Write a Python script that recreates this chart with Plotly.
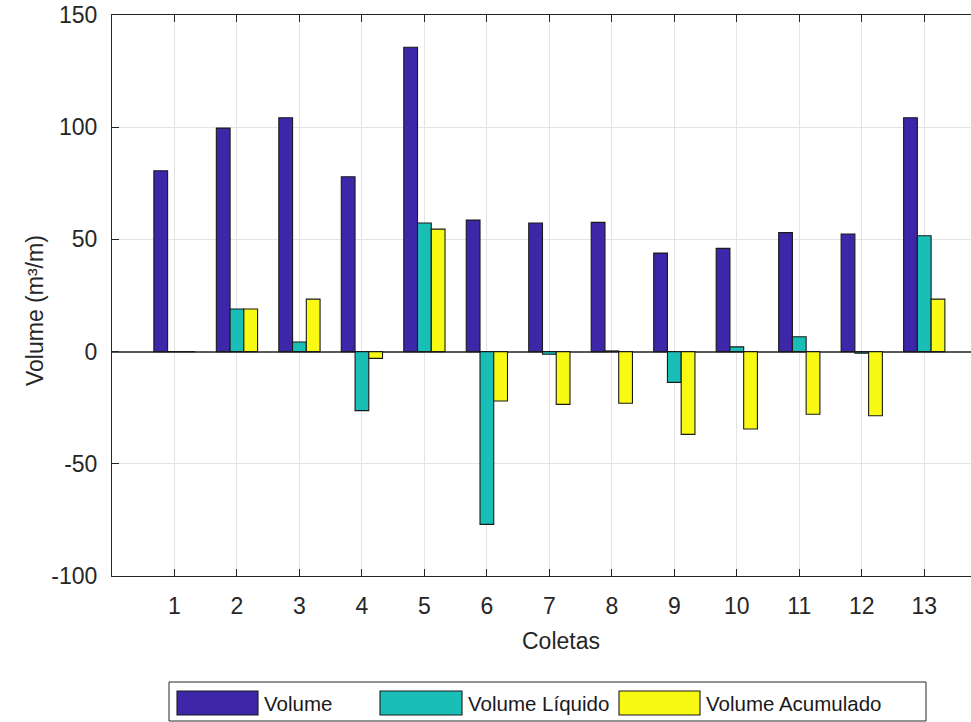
import plotly.graph_objects as go

categories = list(range(1, 14))
tick_labels = [str(c) for c in categories]
y_ticks = [-100, -50, 0, 50, 100, 150]
y_tick_labels = ["-100", "-50", "0", "50", "100", "150"]
series_names = ["Volume", "Volume Líquido", "Volume Acumulado"]
volume = [80.6, 99.6, 104.2, 77.9, 135.6, 58.6, 57.3, 57.6, 43.9, 46.0, 53.0, 52.4, 104.2]
volume_liquido = [0.0, 19.0, 4.3, -26.3, 57.3, -77.0, -1.2, 0.3, -13.7, 2.1, 6.6, -0.7, 51.6]
volume_acumulado = [0.0, 19.0, 23.4, -3.0, 54.6, -22.0, -23.5, -23.0, -36.9, -34.5, -27.9, -28.6, 23.4]
colors = ["#3E26A8", "#19BFB7", "#F9FA14"]

W, H = 971, 722
L, T, B = 112, 15, 146
plot_w = W - L
plot_h = H - T - B

def px_x(p):
    return (p - L) / plot_w

def px_y(p):
    return (H - B - p) / plot_h

fig = go.Figure()
for name, vals, col in zip(series_names, [volume, volume_liquido, volume_acumulado], colors):
    fig.add_trace(go.Bar(x=categories, y=vals, name=name, marker_color=col,
                         marker_line_color="#1a1a1a", marker_line_width=1.1,
                         showlegend=False))

font = "Liberation Sans, Arial, Helvetica, sans-serif"
fig.update_layout(
    width=W, height=H,
    margin=dict(l=L, r=0, t=T, b=B),
    paper_bgcolor="white", plot_bgcolor="white",
    barmode="group", bargap=0.34, bargroupgap=0,
    font=dict(family=font, size=23, color="#262626"),
)
fig.update_xaxes(range=[0, plot_w / 62.48], tickmode="array", tickvals=categories,
                 ticktext=tick_labels, ticks="inside", ticklen=7, tickcolor="#262626",
                 showline=True, linecolor="#262626", linewidth=1, mirror="ticks",
                 showgrid=True, gridcolor="#e4e4e4", gridwidth=1, zeroline=False,
                 tickfont=dict(size=23), ticklabelstandoff=9)
fig.update_yaxes(range=[-100, 150], tickmode="array", tickvals=y_ticks, ticktext=y_tick_labels,
                 ticks="inside", ticklen=7, tickcolor="#262626",
                 showline=True, linecolor="#262626", linewidth=1, mirror=False,
                 showgrid=True, gridcolor="#e4e4e4", gridwidth=1,
                 zeroline=True, zerolinecolor="#5a5a5a", zerolinewidth=1.5,
                 tickfont=dict(size=23), ticklabelstandoff=9)

annotations = [
    dict(text="Coletas", xref="paper", yref="paper", x=px_x(561), y=px_y(641),
         xanchor="center", yanchor="middle", showarrow=False,
         font=dict(size=23, color="#262626")),
    dict(text="Volume (m³/m)", xref="paper", yref="paper", x=px_x(35), y=px_y(311),
         xanchor="center", yanchor="middle", textangle=-90, showarrow=False,
         font=dict(size=23, color="#262626")),
]

# custom legend (MATLAB style wide patches)
shapes = [dict(type="rect", xref="paper", yref="paper",
               x0=px_x(169), x1=px_x(926), y0=px_y(721), y1=px_y(682),
               line=dict(color="#262626", width=1), fillcolor="white")]
patch_x = [(177, 258), (380, 462), (619, 700)]
for (a, b), col, name in zip(patch_x, colors, series_names):
    shapes.append(dict(type="rect", xref="paper", yref="paper",
                       x0=px_x(a), x1=px_x(b), y0=px_y(715), y1=px_y(691),
                       line=dict(color="#1a1a1a", width=1.1), fillcolor=col))
    annotations.append(dict(text=name, xref="paper", yref="paper",
                            x=px_x(b + 4), y=px_y(703), xanchor="left", yanchor="middle",
                            showarrow=False, font=dict(size=20.5, color="#1a1a1a")))
fig.update_layout(shapes=shapes, annotations=annotations)

fig.write_html("out.html")
